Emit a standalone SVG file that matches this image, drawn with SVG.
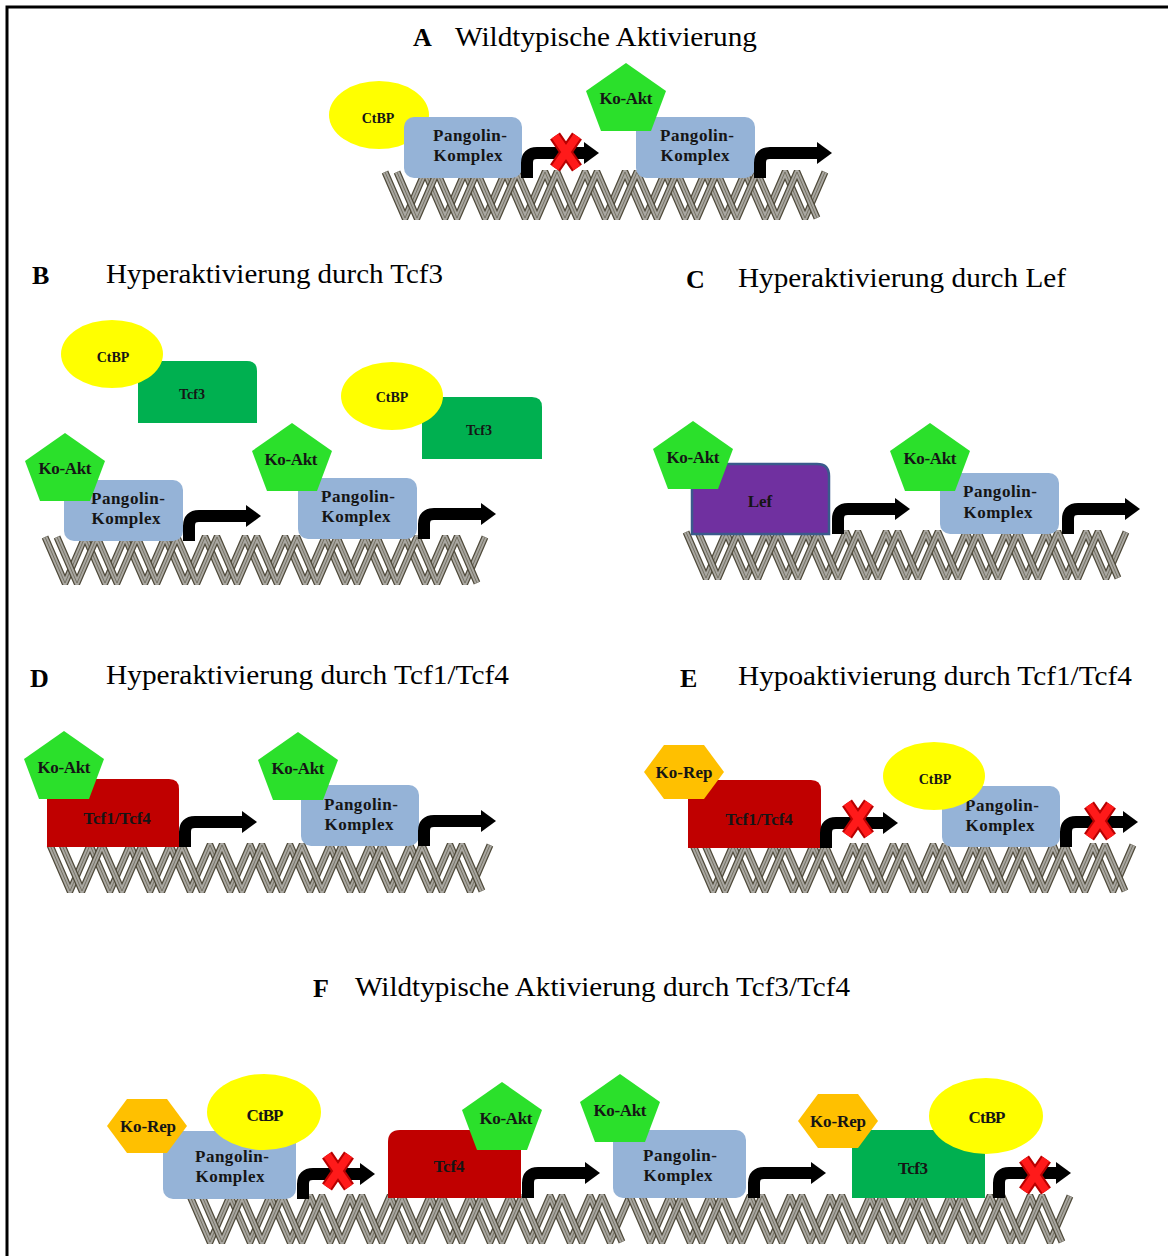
<svg xmlns="http://www.w3.org/2000/svg" width="1168" height="1256" viewBox="0 0 1168 1256">
<style>
  .ttl{font-family:"Liberation Serif","DejaVu Serif",serif;font-size:28px;fill:#000}
  .let{font-family:"Liberation Serif","DejaVu Serif",serif;font-size:26px;font-weight:bold;fill:#000}
  .lb{font-family:"Liberation Serif","DejaVu Serif",serif;font-size:17px;font-weight:bold;fill:#151515;text-anchor:middle}
  .sm{font-size:14px}
  .pang{fill:#95b3d7}
  .ctbp{fill:#ffff00}
  .akt{fill:#2be02b}
  .rep{fill:#ffc000}
  .tcf3{fill:#00b050}
  .tcf4{fill:#c00000}
  .lef{fill:#7030a0;stroke:#3a5a8c;stroke-width:2.5}
  .dk{fill:none;stroke:#4f4a3a;stroke-width:7;stroke-linejoin:round}
  .gr{fill:none;stroke:#a9a7a1;stroke-width:4.5;stroke-linejoin:round}
  .ln{fill:none;stroke:#6a6655;stroke-width:0.8;stroke-linejoin:round}
</style>
<defs>
  <clipPath id="dnaclip"><rect x="-6" y="-2" width="456" height="50"/></clipPath>
  <!-- two interleaved zig-zag strands of the double helix -->
  <path id="zz1" d="M0,0 l20,46 20,-46 20,46 20,-46 20,46 20,-46 20,46 20,-46 20,46 20,-46 20,46 20,-46 20,46 20,-46 20,46 20,-46 20,46 20,-46 20,46 20,-46 20,46 20,-46"/>
  <path id="zz2" d="M12,0 l20,46 20,-46 20,46 20,-46 20,46 20,-46 20,46 20,-46 20,46 20,-46 20,46 20,-46 20,46 20,-46 20,46 20,-46 20,46 20,-46 20,46 20,-46 20,46"/>
  <g id="dna" clip-path="url(#dnaclip)">
    <use href="#zz1" class="dk"/>
    <use href="#zz1" class="gr"/>
    <use href="#zz1" class="ln"/>
    <use href="#zz2" class="dk"/>
    <use href="#zz2" class="gr"/>
    <use href="#zz2" class="ln"/>
  </g>
  <!-- bent transcription-start arrow, origin at the foot of the stem -->
  <g id="prom">
    <path d="M0,0 V-15 Q0,-25 10,-25 H59" fill="none" stroke="#000" stroke-width="12"/>
    <polygon points="57,-36 72,-25 57,-14" fill="#000"/>
  </g>
  <!-- red cross for blocked transcription -->
  <g id="xm">
    <path d="M-11,-16 L11,16 M11,-16 L-11,16" stroke="#b80000" stroke-width="12" fill="none"/>
    <path d="M-11,-16 L11,16 M11,-16 L-11,16" stroke="#ff1a1a" stroke-width="8" fill="none"/>
  </g>
  <polygon id="penta" points="0,0 40,28 25,68 -25,68 -40,28"/>
  <polygon id="hexa" points="-40,0 -20,-27 20,-27 40,0 20,27 -20,27"/>
</defs>

<rect x="0" y="0" width="1168" height="1256" fill="#fff"/>
<rect x="7" y="7" width="1200" height="1300" fill="none" stroke="#000" stroke-width="3"/>

<!-- headings -->
<g id="titles">
  <text class="let" x="413" y="46">A</text>
  <text class="ttl" x="455" y="46" textLength="302" lengthAdjust="spacingAndGlyphs">Wildtypische Aktivierung</text>
  <text class="let" x="32" y="284">B</text>
  <text class="ttl" x="106" y="283" textLength="337" lengthAdjust="spacingAndGlyphs">Hyperaktivierung durch Tcf3</text>
  <text class="let" x="686" y="288">C</text>
  <text class="ttl" x="738" y="287" textLength="328" lengthAdjust="spacingAndGlyphs">Hyperaktivierung durch Lef</text>
  <text class="let" x="30" y="687">D</text>
  <text class="ttl" x="106" y="684" textLength="403" lengthAdjust="spacingAndGlyphs">Hyperaktivierung durch Tcf1/Tcf4</text>
  <text class="let" x="680" y="687">E</text>
  <text class="ttl" x="738" y="685" textLength="394" lengthAdjust="spacingAndGlyphs">Hypoaktivierung durch Tcf1/Tcf4</text>
  <text class="let" x="313" y="997">F</text>
  <text class="ttl" x="355" y="996" textLength="495" lengthAdjust="spacingAndGlyphs">Wildtypische Aktivierung durch Tcf3/Tcf4</text>
</g>

<!-- DNA strands -->
<g id="dna-strands">
  <use href="#dna" x="385" y="172"/>
  <use href="#dna" x="45" y="537"/>
  <use href="#dna" x="686" y="532"/>
  <use href="#dna" x="50" y="845"/>
  <use href="#dna" x="693" y="845"/>
  <use href="#dna" x="190" y="1196"/>
  <use href="#dna" x="630" y="1196"/>
</g>

<!-- panel A -->
<g id="a-ctbp"><ellipse class="ctbp" cx="379" cy="115" rx="50" ry="34"/><text class="lb sm" x="378" y="123">CtBP</text></g>
<g id="a-pangolin1"><rect class="pang" x="404" y="117" width="118" height="61" rx="10"/><text class="lb" x="470" y="141" textLength="74">Pangolin-</text><text class="lb" x="468" y="161" textLength="69">Komplex</text></g>
<g id="a-pangolin2"><rect class="pang" x="636" y="117" width="119" height="61" rx="10"/><text class="lb" x="697" y="141" textLength="74">Pangolin-</text><text class="lb" x="695" y="161" textLength="69">Komplex</text></g>
<g id="a-koakt"><use href="#penta" class="akt" x="626" y="63"/><text class="lb" x="626" y="104" textLength="53">Ko-Akt</text></g>

<!-- panel B -->
<g id="b-tcf3-1"><path class="tcf3" d="M138,361 H247 Q257,361 257,371 V423 H138 Z"/><text class="lb sm" x="192" y="399">Tcf3</text></g>
<g id="b-ctbp1"><ellipse class="ctbp" cx="112" cy="354" rx="51" ry="34"/><text class="lb sm" x="113" y="362">CtBP</text></g>
<g id="b-tcf3-2"><path class="tcf3" d="M422,397 H532 Q542,397 542,407 V459 H422 Z"/><text class="lb sm" x="479" y="435">Tcf3</text></g>
<g id="b-ctbp2"><ellipse class="ctbp" cx="392" cy="396" rx="51" ry="34"/><text class="lb sm" x="392" y="402">CtBP</text></g>
<g id="b-pangolin1"><rect class="pang" x="64" y="480" width="119" height="61" rx="10"/><text class="lb" x="128" y="504" textLength="74">Pangolin-</text><text class="lb" x="126" y="524" textLength="69">Komplex</text></g>
<g id="b-koakt1"><use href="#penta" class="akt" x="65" y="433"/><text class="lb" x="65" y="474" textLength="53">Ko-Akt</text></g>
<g id="b-pangolin2"><rect class="pang" x="298" y="478" width="119" height="61" rx="10"/><text class="lb" x="358" y="502" textLength="74">Pangolin-</text><text class="lb" x="356" y="522" textLength="69">Komplex</text></g>
<g id="b-koakt2"><use href="#penta" class="akt" x="292" y="423"/><text class="lb" x="291" y="465" textLength="53">Ko-Akt</text></g>

<!-- panel C -->
<g id="c-lef"><path class="lef" d="M692,464 H817 Q829,464 829,476 V534 H692 Z"/><text class="lb" x="760" y="507">Lef</text></g>
<g id="c-koakt1"><use href="#penta" class="akt" x="693" y="421"/><text class="lb" x="693" y="463" textLength="53">Ko-Akt</text></g>
<g id="c-pangolin"><rect class="pang" x="940" y="473" width="119" height="61" rx="10"/><text class="lb" x="1000" y="497" textLength="74">Pangolin-</text><text class="lb" x="998" y="518" textLength="69">Komplex</text></g>
<g id="c-koakt2"><use href="#penta" class="akt" x="930" y="423"/><text class="lb" x="930" y="464" textLength="53">Ko-Akt</text></g>

<!-- panel D -->
<g id="d-tcf14"><path class="tcf4" d="M47,779 H169 Q179,779 179,789 V847 H47 Z"/><text class="lb" x="117" y="824">Tcf1/Tcf4</text></g>
<g id="d-koakt1"><use href="#penta" class="akt" x="64" y="731"/><text class="lb" x="64" y="773" textLength="53">Ko-Akt</text></g>
<g id="d-pangolin"><rect class="pang" x="301" y="785" width="118" height="61" rx="10"/><text class="lb" x="361" y="810" textLength="74">Pangolin-</text><text class="lb" x="359" y="830" textLength="69">Komplex</text></g>
<g id="d-koakt2"><use href="#penta" class="akt" x="298" y="732"/><text class="lb" x="298" y="774" textLength="53">Ko-Akt</text></g>

<!-- panel E -->
<g id="e-tcf14"><path class="tcf4" d="M688,780 H811 Q821,780 821,790 V848 H688 Z"/><text class="lb" x="759" y="825">Tcf1/Tcf4</text></g>
<g id="e-korep"><use href="#hexa" class="rep" x="684" y="772"/><text class="lb" x="684" y="778" textLength="57">Ko-Rep</text></g>
<g id="e-pangolin"><rect class="pang" x="942" y="786" width="118" height="61" rx="10"/><text class="lb" x="1002" y="811" textLength="74">Pangolin-</text><text class="lb" x="1000" y="831" textLength="69">Komplex</text></g>
<g id="e-ctbp"><ellipse class="ctbp" cx="934" cy="776" rx="51" ry="34"/><text class="lb sm" x="935" y="784">CtBP</text></g>

<!-- panel F -->
<g id="f-pangolin1"><rect class="pang" x="163" y="1131" width="133" height="68" rx="10"/><text class="lb" x="232" y="1162" textLength="74">Pangolin-</text><text class="lb" x="230" y="1182" textLength="69">Komplex</text></g>
<g id="f-korep1"><use href="#hexa" class="rep" x="147" y="1126"/><text class="lb" x="148" y="1132" textLength="56">Ko-Rep</text></g>
<g id="f-ctbp1"><ellipse class="ctbp" cx="264" cy="1112" rx="57" ry="38"/><text class="lb" x="265" y="1121" textLength="37">CtBP</text></g>
<g id="f-tcf4"><path class="tcf4" d="M388,1198 V1142 Q388,1130 400,1130 H509 Q521,1130 521,1142 V1198 Z"/><text class="lb" x="449" y="1172" textLength="31">Tcf4</text></g>
<g id="f-koakt1"><use href="#penta" class="akt" x="502" y="1082"/><text class="lb" x="506" y="1124" textLength="53">Ko-Akt</text></g>
<g id="f-pangolin2"><rect class="pang" x="613" y="1130" width="133" height="68" rx="10"/><text class="lb" x="680" y="1161" textLength="74">Pangolin-</text><text class="lb" x="678" y="1181" textLength="69">Komplex</text></g>
<g id="f-koakt2"><use href="#penta" class="akt" x="620" y="1074"/><text class="lb" x="620" y="1116" textLength="53">Ko-Akt</text></g>
<g id="f-tcf3"><rect class="tcf3" x="852" y="1130" width="133" height="68"/><text class="lb" x="913" y="1174" textLength="30">Tcf3</text></g>
<g id="f-korep2"><use href="#hexa" class="rep" x="838" y="1121"/><text class="lb" x="838" y="1127" textLength="56">Ko-Rep</text></g>
<g id="f-ctbp2"><ellipse class="ctbp" cx="986" cy="1116" rx="57" ry="38"/><text class="lb" x="987" y="1123" textLength="37">CtBP</text></g>

<!-- transcription arrows and blocks -->
<g id="connectors">
  <use href="#prom" x="527" y="178"/>
  <use href="#prom" x="760" y="178"/>
  <use href="#prom" x="189" y="541"/>
  <use href="#prom" x="424" y="539"/>
  <use href="#prom" x="838" y="534"/>
  <use href="#prom" x="1068" y="534"/>
  <use href="#prom" x="185" y="847"/>
  <use href="#prom" x="424" y="846"/>
  <use href="#prom" x="826" y="848"/>
  <use href="#prom" x="1066" y="847"/>
  <use href="#prom" x="303" y="1199"/>
  <use href="#prom" x="528" y="1198"/>
  <use href="#prom" x="754" y="1198"/>
  <use href="#prom" x="999" y="1198"/>
  <use href="#xm" x="566" y="152"/>
  <use href="#xm" x="858" y="819"/>
  <use href="#xm" x="1100" y="821"/>
  <use href="#xm" x="338" y="1171"/>
  <use href="#xm" x="1035" y="1175"/>
</g>
</svg>
